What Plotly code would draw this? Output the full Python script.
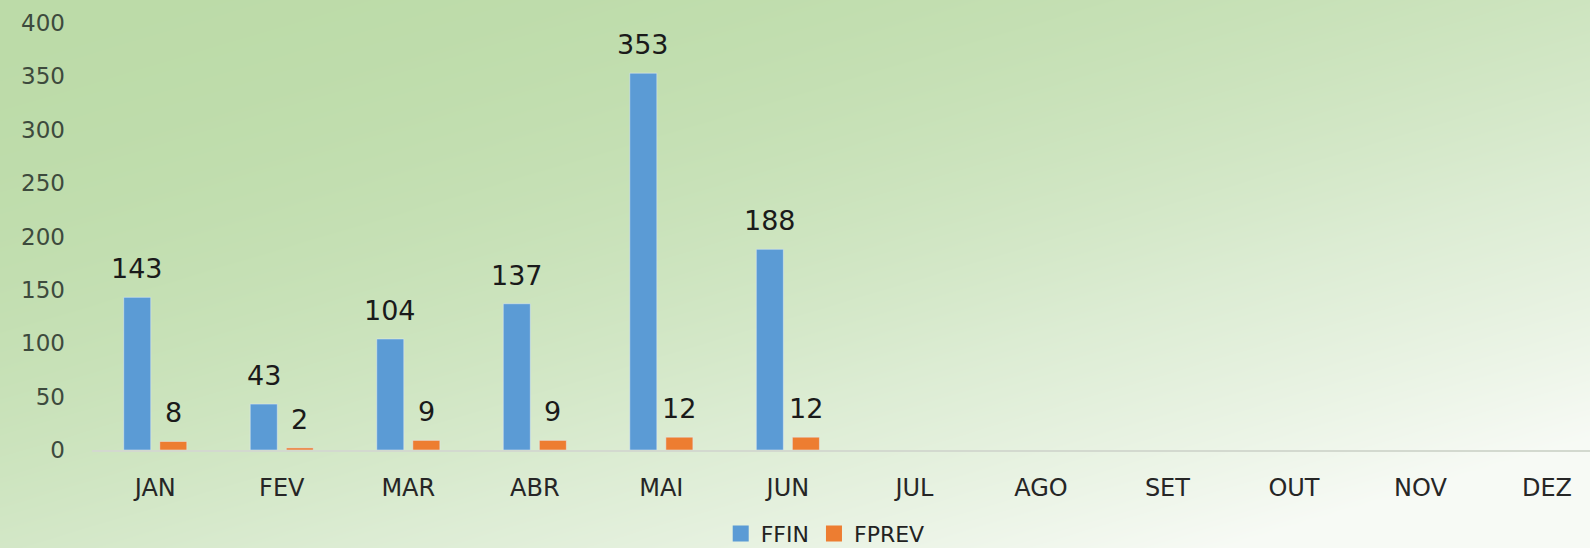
import numpy as np
import plotly.graph_objects as go

# ---- data ----
months = ["JAN", "FEV", "MAR", "ABR", "MAI", "JUN", "JUL", "AGO", "SET", "OUT", "NOV", "DEZ"]
ffin = [143, 43, 104, 137, 353, 188, None, None, None, None, None, None]
fprev = [8, 2, 9, 9, 12, 12, None, None, None, None, None, None]
y_ticks = [0, 50, 100, 150, 200, 250, 300, 350, 400]
series_names = ["FFIN", "FPREV"]

W, H = 1590, 548
FONT = "DejaVu Sans"
BLUE = "#5B9BD5"
ORANGE = "#ED7D31"

# ---- background gradient (decoration) ----
gx = np.linspace(0, W, 160)
gy = np.linspace(0, H, 60)
GX, GY = np.meshgrid(gx, gy)
u = 0.52 * GX / W + 0.6 * GY / H
gz = np.clip(u ** 2, 0, 1)

fig = go.Figure()
fig.add_trace(go.Heatmap(
    x=gx, y=gy, z=gz, xaxis="x", yaxis="y",
    colorscale=[[0, "#bcdba8"], [0.5, "#dcecd3"], [1, "#f7faf5"]],
    zmin=0, zmax=1, showscale=False, hoverinfo="skip", zsmooth="best",
    showlegend=False,
))

for name, vals, col in ((series_names[0], ffin, BLUE), (series_names[1], fprev, ORANGE)):
    fig.add_trace(go.Bar(
        name=name, x=months, y=vals, marker_color=col,
        xaxis="x2", yaxis="y2", showlegend=False, legendgroup=name,
    ))
    # legend entry with a larger square swatch
    fig.add_trace(go.Scatter(
        name=name, x=[None], y=[None], mode="markers",
        marker=dict(symbol="square", size=18, color=col),
        xaxis="x2", yaxis="y2", showlegend=True, legendgroup=name,
    ))

annotations = []
for i, m in enumerate(months):
    for vals, shift in ((ffin, -18), (fprev, 18)):
        v = vals[i]
        if v is None:
            continue
        annotations.append(dict(
            x=m, y=v, xref="x2", yref="y2", text=str(v), showarrow=False,
            xshift=shift, yshift=11, yanchor="bottom", xanchor="center",
            font=dict(family=FONT, size=27, color="#1a1a1a"),
        ))

fig.update_layout(
    width=W, height=H,
    margin=dict(l=0, r=0, t=0, b=0, pad=0, autoexpand=False),
    paper_bgcolor="#d6e8cc",
    plot_bgcolor="rgba(0,0,0,0)",
    barmode="group", bargap=0.43, bargroupgap=0.25,
    showlegend=True,
    legend=dict(
        orientation="h", x=0.519, xanchor="center", y=0.026, yanchor="middle",
        font=dict(family=FONT, size=22, color="#222222"),
        bgcolor="rgba(0,0,0,0)", itemwidth=30, itemsizing="trace",
        tracegroupgap=0,
    ),
    xaxis=dict(domain=[0, 1], range=[0, W], visible=False, fixedrange=True),
    yaxis=dict(domain=[0, 1], range=[H, 0], visible=False, fixedrange=True),
    xaxis2=dict(
        domain=[92 / W, 1], range=[-0.5, 11.34], anchor="y2",
        type="category", categoryorder="array", categoryarray=months,
        showgrid=False, zeroline=False, showline=True, linecolor="#d3d9cf", linewidth=1.5,
        ticks="", ticklabelstandoff=15,
        tickfont=dict(family=FONT, size=24, color="#262626"),
    ),
    yaxis2=dict(
        domain=[98 / H, 525 / H], range=[0, 400], anchor="x2",
        tickvals=y_ticks, showgrid=False, zeroline=False, showline=False,
        ticks="", ticklabelstandoff=26,
        tickfont=dict(family=FONT, size=23, color="#3d4a3d"),
    ),
    annotations=annotations,
)

fig.write_html(
    "out.html",
    config={"displayModeBar": False},
    post_script="document.body.style.margin='0px';document.body.style.overflow='hidden';",
)
